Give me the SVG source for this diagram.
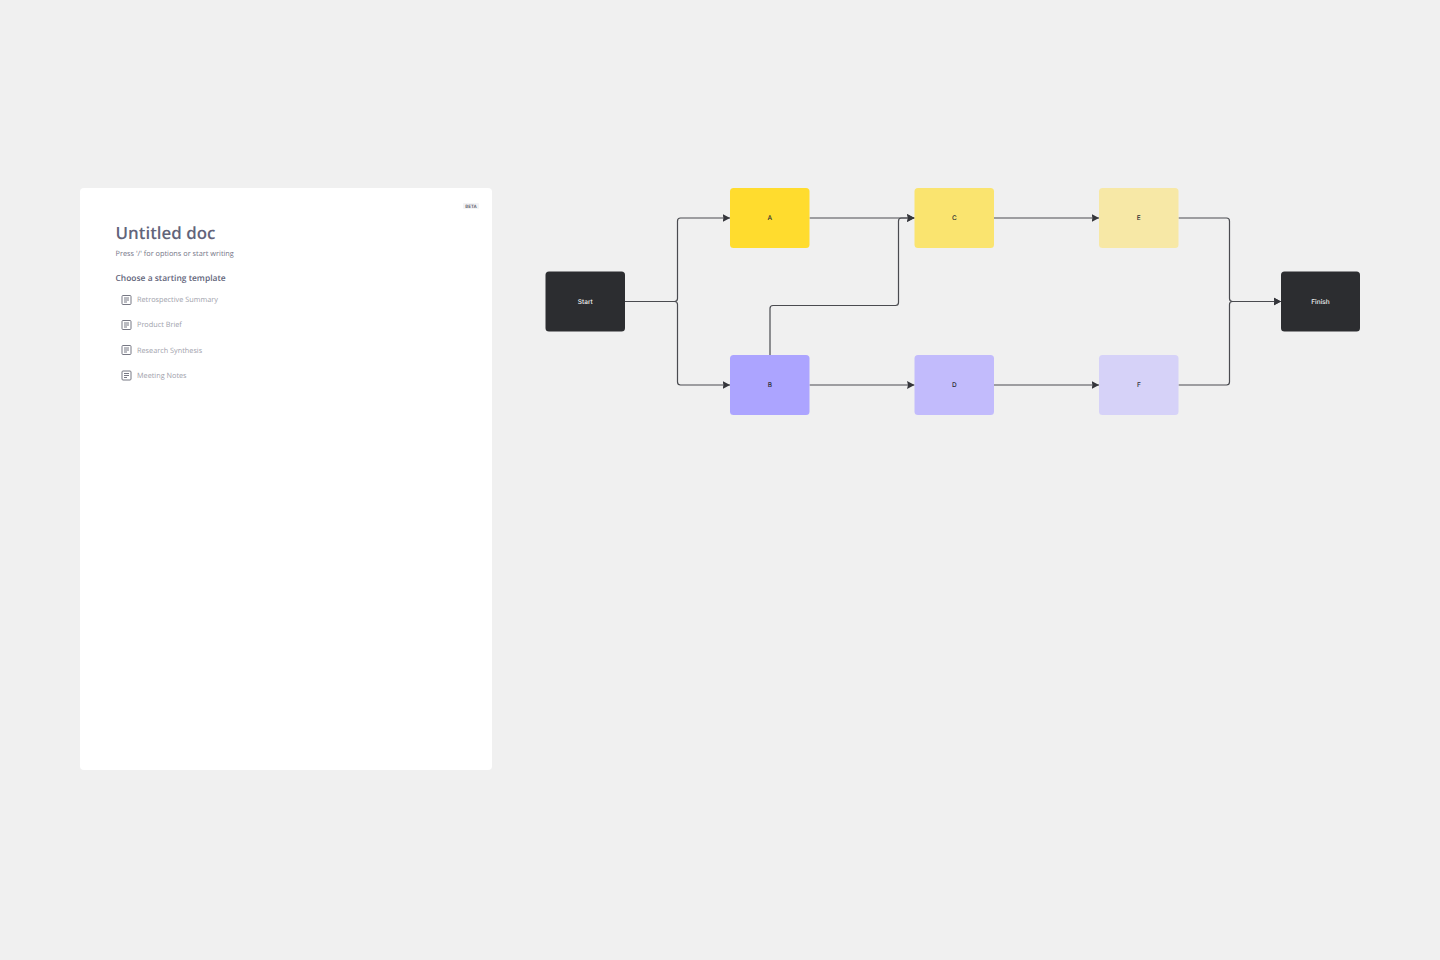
<svg xmlns="http://www.w3.org/2000/svg" width="1440" height="960" viewBox="0 0 1440 960">
<style>
text{text-rendering:geometricPrecision}
.n{stroke:none}
.l{font-family:Inter,"Liberation Sans",sans-serif;font-size:6.500px;font-weight:500;text-anchor:middle;fill:#2b2c33}
.w{fill:#f4f4f4}
.c{fill:none;stroke:#4a4b50;stroke-width:1.200}
.d{font-family:"Open Sans","Noto Sans",sans-serif}
.t{font-size:7.300px;fill:#a0a1ab}
.i{fill:none;stroke:#777884;stroke-width:1}
</style>
<defs>
<marker id="a" markerUnits="userSpaceOnUse" markerWidth="8" markerHeight="9" refX="7.500" refY="4.500" orient="auto"><path d="M0 .5L7.500 4.500L0 8.500L1 4.500z" fill="#35363b"/></marker>
<g id="doc"><rect x="0.500" y="0.500" width="9" height="9" rx="1" class="i"/><path d="M2.500 3H7.500M2.500 5H7.500M2.500 7H5.500" class="i"/></g>
</defs>
<rect width="1440" height="960" fill="#f0f0f0"/>
<g id="doc-panel">
<rect x="80" y="188" width="412" height="582" rx="4" fill="#fff"/>
<rect x="463" y="203" width="16" height="6" rx="1" fill="#f3f3f5"/>
<text x="471" y="207.800" text-anchor="middle" font-family="Inter,'Liberation Sans',sans-serif" font-size="4.500" font-weight="600" fill="#5c5d6b">BETA</text>
<text x="115.500" y="239" class="d" font-size="16.900" font-weight="600" fill="#62647a">Untitled doc</text>
<text x="115.500" y="256.300" class="d" font-size="7.350" fill="#757688">Press '/' for options or start writing</text>
<text x="115.500" y="281" class="d" font-size="8.450" font-weight="600" fill="#62647a">Choose a starting template</text>
<use href="#doc" x="121.500" y="295"/><text x="137" y="302" class="d t">Retrospective Summary</text>
<use href="#doc" x="121.500" y="320"/><text x="137" y="327.300" class="d t">Product Brief</text>
<use href="#doc" x="121.500" y="345"/><text x="137" y="352.500" class="d t">Research Synthesis</text>
<use href="#doc" x="121.500" y="370.500"/><text x="137" y="378" class="d t">Meeting Notes</text>
</g>
<g id="connectors">
<path class="c" d="M625 301.500H674.500Q677.500 301.500 677.500 298.500V221Q677.500 218 680.500 218H730" marker-end="url(#a)"/>
<path class="c" d="M625 301.500H674.500Q677.500 301.500 677.500 304.500V382Q677.500 385 680.500 385H730" marker-end="url(#a)"/>
<path class="c" d="M809.500 218H914.500" marker-end="url(#a)"/>
<path class="c" d="M770 355V308.500Q770 305.500 773 305.500H895.500Q898.500 305.500 898.500 302.500V221Q898.500 218 901.500 218H914.500" marker-end="url(#a)"/>
<path class="c" d="M809.500 385H914.500" marker-end="url(#a)"/>
<path class="c" d="M994 218H1099" marker-end="url(#a)"/>
<path class="c" d="M994 385H1099" marker-end="url(#a)"/>
<path class="c" d="M1178.500 218H1226.500Q1229.500 218 1229.500 221V298.500Q1229.500 301.500 1232.500 301.500H1281" marker-end="url(#a)"/>
<path class="c" d="M1178.500 385H1226.500Q1229.500 385 1229.500 382V304.500Q1229.500 301.500 1232.500 301.500H1281" marker-end="url(#a)"/>
</g>
<g id="node-start"><rect class="n" x="545.500" y="271.500" width="79.500" height="60" rx="3.500" fill="#2c2d30"/><text class="l w" x="585.300" y="303.800">Start</text></g>
<g id="node-a"><rect class="n" x="730" y="188" width="79.500" height="60" rx="3.500" fill="#ffdc2e"/><text class="l" x="769.800" y="220.300">A</text></g>
<g id="node-b"><rect class="n" x="730" y="355" width="79.500" height="60" rx="3.500" fill="#aca4ff"/><text class="l" x="769.800" y="387.300">B</text></g>
<g id="node-c"><rect class="n" x="914.500" y="188" width="79.500" height="60" rx="3.500" fill="#fae46f"/><text class="l" x="954.300" y="220.300">C</text></g>
<g id="node-d"><rect class="n" x="914.500" y="355" width="79.500" height="60" rx="3.500" fill="#c2bbfc"/><text class="l" x="954.300" y="387.300">D</text></g>
<g id="node-e"><rect class="n" x="1099" y="188" width="79.500" height="60" rx="3.500" fill="#f7e8a6"/><text class="l" x="1138.800" y="220.300">E</text></g>
<g id="node-f"><rect class="n" x="1099" y="355" width="79.500" height="60" rx="3.500" fill="#d6d2f8"/><text class="l" x="1138.800" y="387.300">F</text></g>
<g id="node-finish"><rect class="n" x="1281" y="271.500" width="79" height="60" rx="3.500" fill="#2c2d30"/><text class="l w" x="1320.500" y="303.800">Finish</text></g>
</svg>
